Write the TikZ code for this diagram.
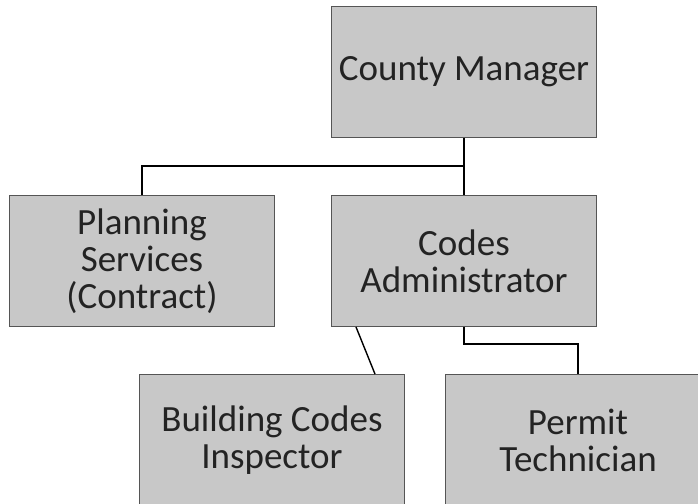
\documentclass[tikz,border=0pt]{standalone}
\usepackage{fontspec}
\setmainfont{Carlito}
\usetikzlibrary{positioning}
\definecolor{boxgray}{RGB}{200,200,200}
\definecolor{edgegray}{RGB}{85,85,85}
\definecolor{inkgray}{RGB}{35,35,35}
\tikzset{
  orgbox/.style={draw=edgegray, line width=0.9pt, fill=boxgray, text=inkgray,
    minimum width=265pt, minimum height=131pt, align=center,
    font=\fontsize{37}{37}\selectfont},
  link/.style={line width=1.4pt, black}
}

\begin{document}
\begin{tikzpicture}[x=1pt, y=-1pt]
  % Frame of the page
  \useasboundingbox (0,0) rectangle (698,503);
  \clip (0,0) rectangle (698,503);

  % Boxes
  \node[orgbox] (cm)    at (464,72)  {County Manager};
  \node[orgbox] (plan)  at (142,261) {Planning\\Services\\(Contract)};
  \node[orgbox] (codes) at (464,261) {Codes\\Administrator};
  \node[orgbox] (insp)  at (272,440) {Building Codes\\Inspector};
  \node[orgbox] (tech)  at (578,440) {Permit\\Technician};

  % Junctions
  \coordinate (jtop) at (464,166);
  \coordinate (jlow) at (464,344);

  % Lines
  \draw[link] (cm.south) -- (codes.north);
  \draw[link] (plan.north) |- (jtop);
  \draw[link] (codes.south) -- (jlow) -| (tech.north);
  \draw[link] ([xshift=-108pt]codes.south) -- ([xshift=103pt]insp.north);
\end{tikzpicture}
\end{document}
